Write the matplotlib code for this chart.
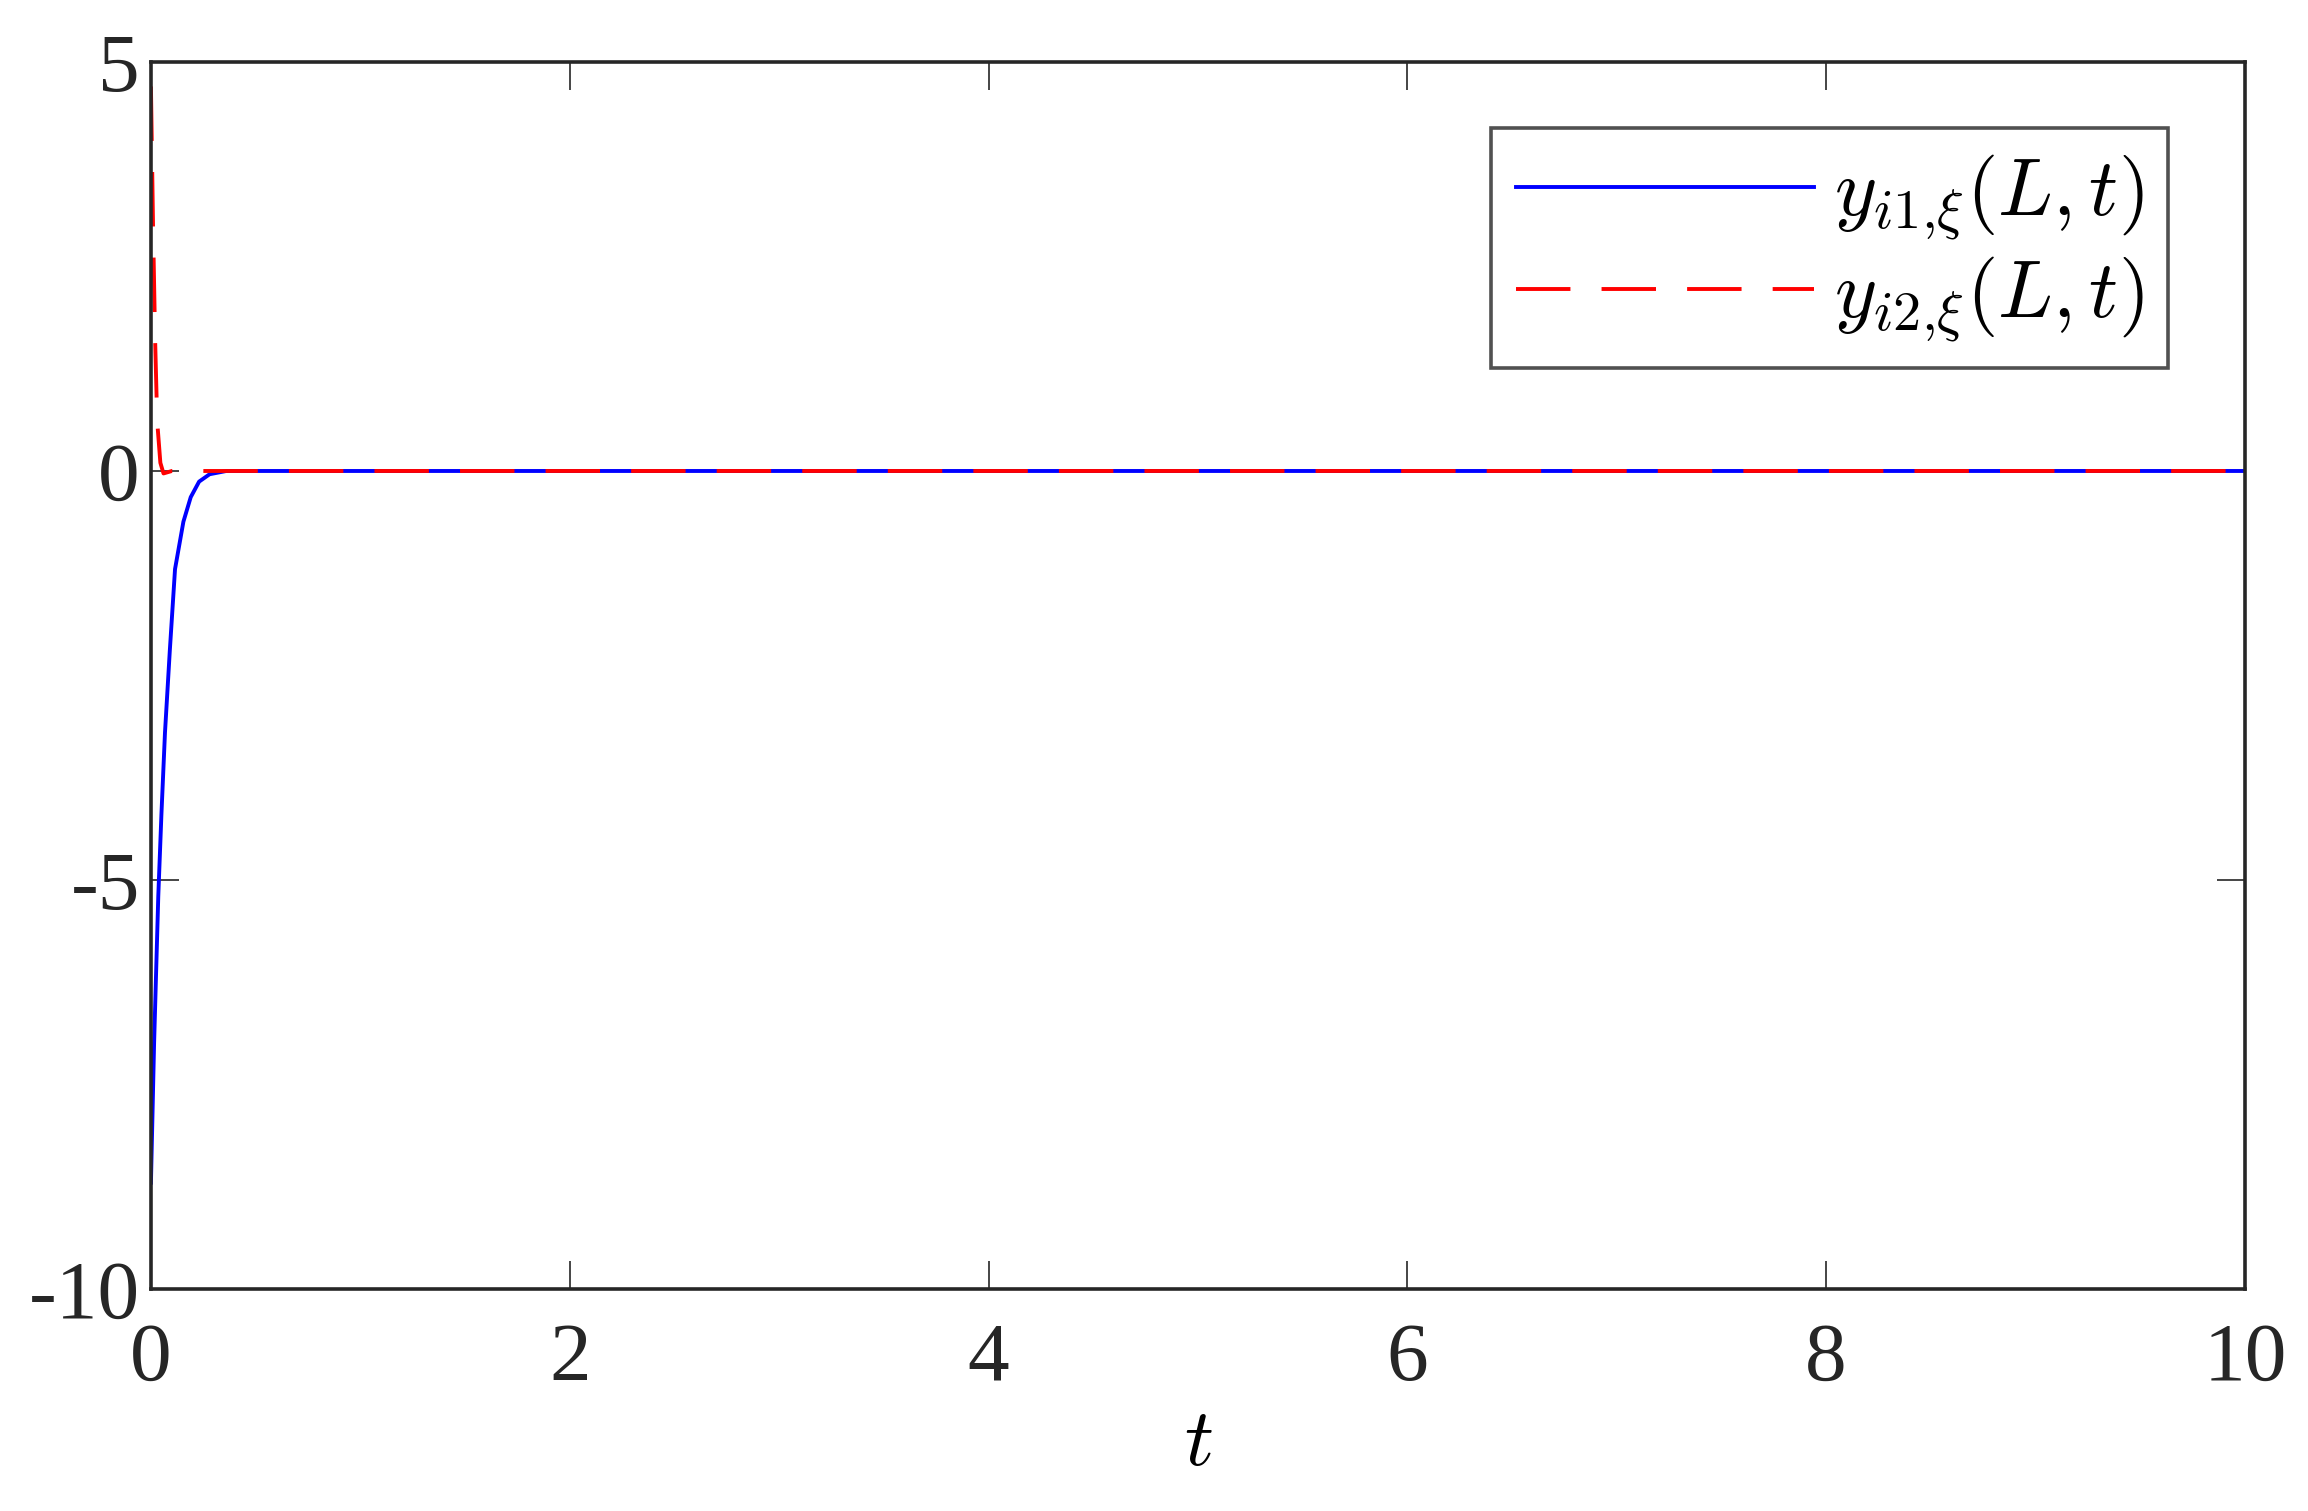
import numpy as np
import matplotlib
matplotlib.use('Agg')
import matplotlib.pyplot as plt

# -----------------------------
# Data
# -----------------------------
t1 = [0.0, 0.015, 0.035, 0.05, 0.067, 0.09, 0.115, 0.155, 0.19, 0.23, 0.28, 0.36, 0.5, 10.0]
y1 = [-8.7, -7.0, -5.2, -4.2, -3.2, -2.2, -1.2, -0.62, -0.32, -0.13, -0.04, 0.0, 0.0, 0.0]

t2 = [0.0, 0.01, 0.02, 0.03, 0.045, 0.06, 0.1, 10.0]
y2 = [4.7, 3.0, 1.6, 0.6, 0.1, -0.03, 0.0, 0.0]

xticks = [0, 2, 4, 6, 8, 10]
yticks = [-10, -5, 0, 5]
ytick_labels = ['-10', '-5', '0', '5']

plt.rcParams['font.family'] = ['Liberation Serif', 'DejaVu Serif']
plt.rcParams['mathtext.fontset'] = 'cm'

fig = plt.figure(figsize=(23.08, 15.11), dpi=100)
ax = fig.add_axes([0.0654, 0.1469, 0.9073, 0.8121])

ax.plot(t1, y1, color='#0000ff', lw=2.8, label=r'$y_{i1{,}\xi}(L,t)$')
ax.plot(t2, y2, color='#ff0000', lw=2.8, dashes=(14, 8), label=r'$y_{i2{,}\xi}(L,t)$')

ax.set_xlim(0, 10)
ax.set_ylim(-10, 5)
ax.set_xticks(xticks)
ax.set_xticklabels([str(v) for v in xticks])
ax.set_yticks(yticks)
ax.set_yticklabels(ytick_labels)

for s in ax.spines.values():
    s.set_linewidth(2.6)
    s.set_color('#262626')

ax.tick_params(direction='in', length=20, width=1.2, colors='#262626',
               labelsize=60, top=True, right=True)
ax.tick_params(axis='x', pad=24)
ax.tick_params(axis='y', pad=8)

ax.set_xlabel(r'$t$', fontsize=58, labelpad=8)

leg = ax.legend(loc='upper right', fontsize=58, frameon=True, fancybox=False,
                handlelength=3.7, handletextpad=0.25, borderpad=0.3,
                labelspacing=0.15, borderaxespad=0.0,
                bbox_to_anchor=(0.963, 0.946))
leg.get_frame().set_edgecolor('#262626')
leg.get_frame().set_linewidth(2.6)

fig.savefig('out.png', dpi=100, facecolor='white')
